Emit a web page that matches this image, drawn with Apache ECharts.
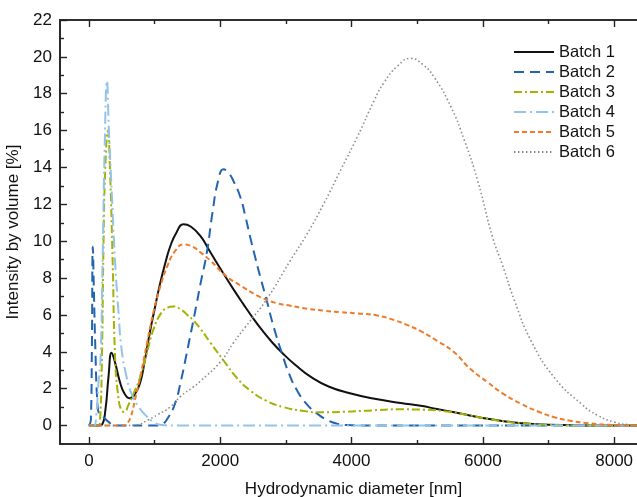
<!DOCTYPE html>
<html>
<head>
<meta charset="utf-8">
<script src="https://cdn.jsdelivr.net/npm/echarts@6/dist/echarts.min.js"></script>
<style>html,body{margin:0;padding:0;background:#fff;}#c{width:637px;height:497px;}</style>
</head>
<body>
<div id="c"></div>
<script>
const seriesNames = ['Batch 1','Batch 2','Batch 3','Batch 4','Batch 5','Batch 6'];
const xMajorTicks = [0, 2000, 4000, 6000, 8000];
const xMinorTicks = [1000, 3000, 5000, 7000];
const yMajorTicks = [0,2,4,6,8,10,12,14,16,18,20,22];
const yMinorTicks = [1,3,5,7,9,11,13,15,17,19,21];

const batch1 = [[0,0],[150,0],[200,0.05],[250,0.8],[300,2.7],[346,3.95],[400,3.4],[470,2.4],[540,1.75],[626,1.48],[700,1.7],[779,2.3],[850,3.5],[931,5.1],[1000,6.3],[1084,7.7],[1170,8.9],[1237,9.7],[1330,10.45],[1440,10.92],[1550,10.8],[1695,10.3],[1850,9.4],[2047,8.26],[2200,7.4],[2350,6.6],[2500,5.83],[2650,5.12],[2800,4.48],[2950,3.92],[3150,3.27],[3375,2.65],[3650,2.12],[3990,1.74],[4350,1.45],[4750,1.22],[5054,1.07],[5300,0.9],[5563,0.72],[5800,0.55],[6073,0.37],[6300,0.25],[6582,0.13],[7000,0.04],[7500,0.01],[8500,0]];
const batch2 = [[0,0],[30,0.3],[45,4],[60,9.7],[75,7.5],[100,4],[130,1.2],[160,0.6],[220,0.45],[300,0.2],[380,0.02],[450,0],[1000,0],[1100,0.05],[1200,0.4],[1313,1.2],[1400,2.4],[1466,3.5],[1540,4.8],[1619,6.2],[1700,7.7],[1797,9.4],[1880,11.5],[1970,13.3],[2050,13.9],[2130,13.7],[2210,13.2],[2306,12.4],[2380,11.4],[2458,10.2],[2535,9.1],[2611,8.06],[2700,6.9],[2815,5.34],[2942,3.9],[3050,2.8],[3171,1.9],[3320,1.15],[3477,0.65],[3630,0.3],[3782,0.1],[4000,0.02],[4300,0],[8500,0]];
const batch3 = [[0,0],[140,0],[170,0.3],[200,4],[219,9],[250,14],[290,16.0],[320,14],[361,9],[397,3.9],[440,1.8],[499,0.8],[540,0.75],[600,1.1],[700,1.9],[779,2.6],[880,3.9],[982,5.2],[1100,6.1],[1200,6.4],[1287,6.46],[1400,6.3],[1500,6.0],[1593,5.7],[1695,5.27],[1850,4.5],[2051,3.53],[2250,2.6],[2458,1.9],[2700,1.35],[2967,1.0],[3250,0.8],[3527,0.72],[3900,0.75],[4240,0.81],[4700,0.88],[5100,0.86],[5500,0.74],[5800,0.55],[6073,0.36],[6582,0.13],[7000,0.04],[7500,0],[8500,0]];
const batch4 = [[0,0],[80,0],[110,0.5],[150,2.5],[178,3.6],[209,9],[240,15],[275,18.7],[305,16],[350,12.5],[397,9],[450,6.2],[499,4.1],[570,2.7],[652,1.7],[760,1.0],[881,0.5],[980,0.2],[1084,0.05],[1300,0],[8500,0]];
const batch5 = [[0,0],[500,0],[575,0.1],[640,0.5],[702,1.4],[780,2.6],[881,4.4],[980,6.1],[1084,7.5],[1200,8.7],[1320,9.5],[1440,9.83],[1580,9.7],[1695,9.41],[1850,8.95],[2077,8.15],[2306,7.6],[2611,6.97],[2850,6.65],[3069,6.5],[3324,6.34],[3580,6.23],[3833,6.15],[4100,6.08],[4393,5.97],[4650,5.72],[4851,5.45],[5054,5.12],[5300,4.6],[5563,3.98],[5800,3.1],[6073,2.35],[6300,1.75],[6582,1.18],[6850,0.75],[7090,0.45],[7350,0.25],[7600,0.13],[7850,0.05],[8200,0.01],[8500,0]];
const batch6 = [[0,0],[500,0],[728,0.04],[900,0.3],[1050,0.6],[1237,1.0],[1400,1.6],[1593,2.1],[1695,2.4],[2000,3.44],[2204,4.5],[2382,5.34],[2713,6.88],[3069,8.96],[3324,10.4],[3578,12.04],[3833,13.85],[4088,15.66],[4341,17.6],[4494,18.6],[4700,19.5],[4902,19.92],[5080,19.6],[5258,18.9],[5513,17.3],[5716,15.5],[5920,13.3],[6149,10.2],[6300,8.7],[6480,6.8],[6734,4.6],[7090,2.6],[7498,1.18],[7750,0.55],[8007,0.18],[8300,0.03],[8500,0]];

const allData = [batch1, batch2, batch3, batch4, batch5, batch6];
const colors = ['#111111','#2264b0','#a3b300','#93c3e8','#ef7b2a','#8c8c8c'];
const dashes = ['solid',[10,6],[8,3,2,3],[12,4,2,4],[5,3],[1.5,2.5]];
const widths = [2,2,2,2,2,1.6];

const FONT = 'Liberation Sans, Arial, sans-serif';
const XMIN = -440, XMAX = 8500, YMIN = -1, YMAX = 22;

const chart = echarts.init(document.getElementById('c'), null, {renderer:'canvas'});
const axisLineStyle = {color:'#222', width:1.6};
const plain = v => String(v);

function xAx(pos, vals, len, labels, extra) {
  return Object.assign({
    type:'value', position:pos, min:XMIN, max:XMAX, gridIndex:0,
    axisLine:{show:true, onZero:false, lineStyle:axisLineStyle},
    axisTick:{show:true, inside:true, length:len, customValues:vals, lineStyle:{color:'#222', width:1.4}},
    axisLabel:{show:labels, customValues:vals, formatter:plain, color:'#111', fontSize:17, fontFamily:FONT, margin:9},
    splitLine:{show:false}
  }, extra||{});
}
function yAx(vals, len, labels, extra) {
  return Object.assign({
    type:'value', position:'left', min:YMIN, max:YMAX, gridIndex:0,
    axisLine:{show:true, onZero:false, lineStyle:axisLineStyle},
    axisTick:{show:true, inside:true, length:len, customValues:vals, lineStyle:{color:'#222', width:1.4}},
    axisLabel:{show:labels, customValues:vals, formatter:plain, color:'#111', fontSize:17, fontFamily:FONT, margin:8},
    splitLine:{show:false}
  }, extra||{});
}

chart.setOption({
  animation:false,
  backgroundColor:'#fff',
  grid:{left:60, top:20, width:587, height:424, containLabel:false, outerBoundsMode:'none'},
  xAxis:[
    xAx('bottom', xMajorTicks, 7, true, {name:'Hydrodynamic diameter [nm]', nameLocation:'middle', nameGap:37, nameTextStyle:{fontSize:17, fontFamily:FONT, color:'#111'}}),
    xAx('bottom', xMinorTicks, 4, false),
    xAx('top', xMajorTicks, 7, false),
    xAx('top', xMinorTicks, 4, false)
  ],
  yAxis:[
    yAx(yMajorTicks, 7, true, {name:'Intensity by volume [%]', nameLocation:'middle', nameGap:32, nameTextStyle:{fontSize:17, fontFamily:FONT, color:'#111'}}),
    yAx(yMinorTicks, 4, false)
  ],
  legend:{
    orient:'vertical', left:513, top:42, padding:0, itemWidth:40, itemHeight:14, itemGap:0,
    itemStyle:{opacity:0},
    textStyle:{fontSize:16.5, fontFamily:FONT, color:'#111', lineHeight:20},
    data:seriesNames
  },
  series: allData.map((d,i)=>({
    name:seriesNames[i], type:'line', data:d, xAxisIndex:0, yAxisIndex:0,
    smooth:0.5, showSymbol:false, symbol:'none',
    clip:true,
    lineStyle:{color:colors[i], width:widths[i], type:dashes[i], cap:'butt'},
    itemStyle:{color:colors[i]},
    emphasis:{disabled:true},
    z: 2+i
  }))
});
</script>
</body>
</html>
